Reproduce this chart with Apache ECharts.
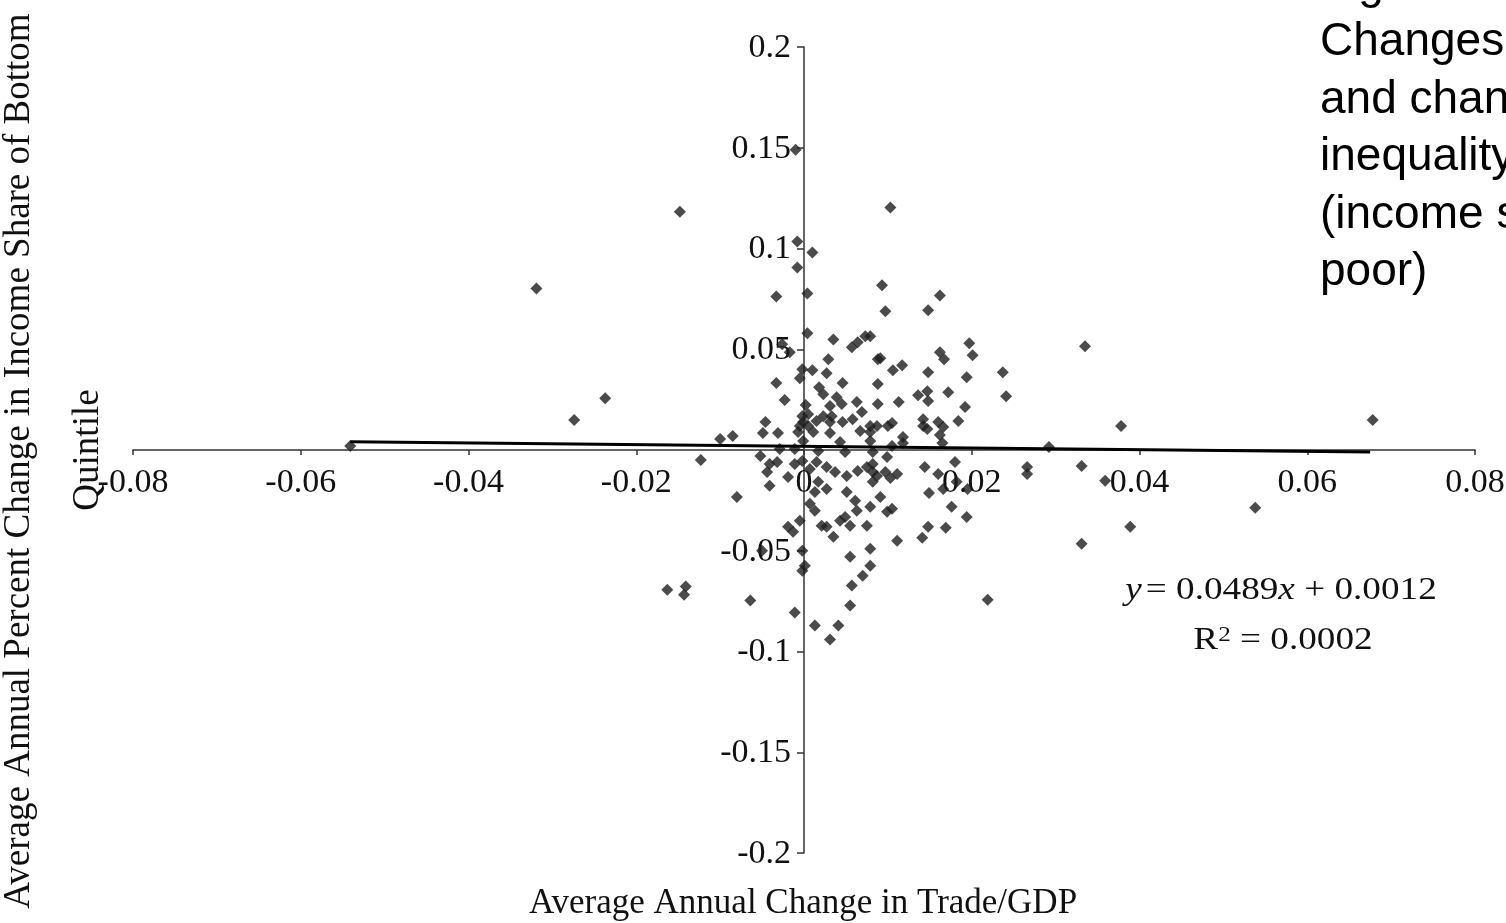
<!DOCTYPE html>
<html><head><meta charset="utf-8">
<script src="https://cdn.jsdelivr.net/npm/echarts@6/dist/echarts.min.js"></script>
<style>html,body{margin:0;padding:0;background:#fff}#c{width:1506px;height:923px}</style>
</head><body><div id="c"></div><script>
// Average annual change in Trade/GDP (x) and in income share of bottom quintile (y)
const xs = [
-0.0541,-0.0319,-0.0274,-0.0237,-0.0148,-0.0163,-0.0141,-0.0143,-0.0123,-0.0100,-0.0085,-0.0080,-0.0064,-0.0010,-0.0008,0.0010,-0.0008,0.0103,
-0.0033,0.0004,0.0004,0.0035,0.0057,0.0064,0.0073,-0.0026,-0.0017,0.0029,0.0088,-0.0002,0.0010,-0.0005,0.0027,-0.0033,0.0046,0.0018,0.0023,-0.0023,
0.0039,0.0045,0.0031,0.0063,0.0088,0.0088,0.0002,0.0069,-0.0002,0.0005,0.0023,0.0033,0.0046,0.0058,-0.0046,-0.0005,0.0005,-0.0049,-0.0031,0.0031,
0.0067,0.0079,0.0087,0.0093,0.0162,0.0097,0.0148,0.0079,0.0197,0.0201,0.0162,0.0167,0.0091,0.0106,0.0117,0.0148,0.0237,0.0194,0.0136,0.0147,
0.0148,0.0172,0.0241,0.0113,0.0192,0.0105,0.0142,0.0147,0.0160,0.0166,0.0184,0.0118,0.0162,
-0.0052,-0.0041,-0.0032,-0.0044,-0.0041,-0.0019,-0.0011,-0.0002,0.0007,0.0015,0.0027,0.0037,0.0017,0.0013,0.0027,0.0051,0.0064,0.0075,0.0087,
0.0051,0.0061,0.0063,0.0079,0.0007,0.0013,-0.0005,-0.0019,-0.0013,0.0021,0.0027,0.0043,0.0049,0.0055,0.0075,0.0035,-0.0050,-0.0002,0.0079,
0.0055,0.0001,-0.0002,0.0079,0.0070,
0.0105,0.0118,0.0165,0.0082,0.0099,0.0144,0.0180,0.0082,0.0082,0.0082,0.0097,0.0103,0.0111,0.0160,0.0182,0.0166,0.0149,0.0195,0.0091,0.0099,
0.0105,0.0176,0.0194,0.0148,0.0141,0.0169,0.0111,0.0266,0.0266,
-0.0029,-0.0007,-0.0001,0.0011,0.0017,0.0043,0.0049,0.0079,0.0142,-0.0011,-0.0001,0.0015,0.0031,0.0079,0.0100,
0.0335,0.0378,0.0678,0.0292,0.0331,0.0359,0.0389,0.0331,0.0538,0.0219,
-0.0011,0.0013,0.0041,0.0031,0.0055,0.0057
];
const ys = [
0.0020,0.0802,0.0149,0.0257,0.1183,-0.0693,-0.0678,-0.0718,-0.0050,0.0054,0.0069,-0.0233,-0.0747,0.1490,0.1035,0.0980,0.0906,0.1203,
0.0762,0.0777,0.0579,0.0549,0.0510,0.0535,0.0564,0.0525,0.0485,0.0450,0.0450,0.0401,0.0396,0.0356,0.0381,0.0332,0.0332,0.0312,0.0277,0.0248,
0.0262,0.0228,0.0218,0.0238,0.0327,0.0228,0.0223,0.0188,0.0168,0.0178,0.0168,0.0168,0.0139,0.0153,0.0139,0.0119,0.0119,0.0084,0.0084,0.0084,
0.0094,0.0089,0.0119,0.0817,0.0767,0.0688,0.0693,0.0564,0.0530,0.0470,0.0485,0.0450,0.0455,0.0396,0.0421,0.0386,0.0386,0.0361,0.0272,0.0292,
0.0243,0.0287,0.0267,0.0238,0.0213,0.0134,0.0153,0.0104,0.0139,0.0114,0.0144,0.0064,0.0074,
-0.0030,-0.0069,-0.0059,-0.0109,-0.0178,-0.0134,-0.0069,-0.0054,-0.0094,-0.0059,-0.0084,-0.0109,-0.0158,-0.0208,-0.0193,-0.0129,-0.0104,-0.0084,-0.0129,
-0.0208,-0.0252,-0.0302,-0.0282,-0.0267,-0.0302,-0.0351,-0.0381,-0.0406,-0.0376,-0.0381,-0.0351,-0.0332,-0.0376,-0.0376,-0.0431,-0.0500,-0.0500,-0.0490,
-0.0530,-0.0574,-0.0599,-0.0574,-0.0624,
0.0020,0.0035,0.0035,-0.0010,-0.0035,-0.0084,-0.0059,-0.0069,-0.0109,-0.0158,-0.0109,-0.0139,-0.0119,-0.0119,-0.0158,-0.0193,-0.0213,-0.0193,-0.0233,-0.0307,
-0.0292,-0.0282,-0.0332,-0.0381,-0.0436,-0.0386,-0.0450,-0.0084,-0.0119,
0.0005,0.0089,0.0045,0.0089,-0.0005,0.0040,-0.0010,0.0045,0.0119,0.0005,0.0139,0.0144,0.0139,0.0119,0.0119,
0.0515,0.0119,0.0149,0.0015,-0.0079,-0.0153,-0.0381,-0.0465,-0.0287,-0.0743,
-0.0807,-0.0871,-0.0871,-0.0941,-0.0772,-0.0673
];
// fitted trend line as drawn in the figure (end points)
const trendX = [-0.0541, 0.0675];
const trendY = [0.0041, -0.0010];
// axis ticks and their labels
const xTicks = [-0.08, -0.06, -0.04, -0.02, 0, 0.02, 0.04, 0.06, 0.08];
const xTickLabels = ['-0.08', '-0.06', '-0.04', '-0.02', '0', '0.02', '0.04', '0.06', '0.08'];
const yTicks = [-0.2, -0.15, -0.1, -0.05, 0, 0.05, 0.1, 0.15, 0.2];
const yTickLabels = ['-0.2', '-0.15', '-0.1', '-0.05', '', '0.05', '0.1', '0.15', '0.2'];
const xTitle = 'Average Annual Change in Trade/GDP';
const yTitle1 = 'Average Annual Percent Change in Income Share of Bottom';
const yTitle2 = 'Quintile';
const noteLines = ['Figure 4 (b)', 'Changes in openness', 'and changes in', 'inequality', '(income share of the', 'poor)'];

const pts = xs.map((x, i) => [x, ys[i]]);
const trend = trendX.map((x, i) => [x, trendY[i]]);
const serif = '"Liberation Serif", "Times New Roman", serif';
const sans = '"Liberation Sans", Arial, sans-serif';

const chart = echarts.init(document.getElementById('c'), null, {renderer: 'canvas'});
const noteGraphics = noteLines.map((t, i) => ({
  type: 'text', left: 1320, top: -38 + i * 57.5, silent: true,
  style: {text: t, font: '46px ' + sans, fill: '#000'}
}));
chart.setOption({
  backgroundColor: '#fff',
  animation: false,
  grid: {left: 133, right: 31, top: 47, bottom: 70, containLabel: false},
  xAxis: {
    type: 'value', min: -0.08, max: 0.08, interval: 0.02,
    axisLine: {onZero: true, lineStyle: {color: '#333', width: 1.5}},
    axisTick: {show: true, length: 5, lineStyle: {color: '#333', width: 1.5}},
    splitLine: {show: false},
    axisLabel: {show: false}
  },
  yAxis: {
    type: 'value', min: -0.2, max: 0.2, interval: 0.05,
    axisLine: {onZero: true, lineStyle: {color: '#333', width: 1.5}},
    axisTick: {show: true, length: 7, lineStyle: {color: '#333', width: 1.5}},
    splitLine: {show: false},
    axisLabel: {show: false}
  },
  series: [
    {type: 'scatter', data: pts, symbol: 'diamond', symbolSize: 12,
     itemStyle: {color: '#1e1e1e'}, z: 3},
    {type: 'line', data: trend, symbol: 'none', lineStyle: {color: '#000', width: 3}, z: 4}
  ]
});

// tick labels placed with the chart's own scales (axes cross at zero)
const tickGraphics = [];
xTicks.forEach((v, i) => {
  const p = chart.convertToPixel({gridIndex: 0}, [v, 0]);
  tickGraphics.push({type: 'text', x: p[0], y: p[1] + 33, silent: true, z: 1,
    style: {text: xTickLabels[i], font: '34px ' + serif, fill: '#111', align: 'center', verticalAlign: 'middle'}});
});
yTicks.forEach((v, i) => {
  if (!yTickLabels[i]) return;
  const p = chart.convertToPixel({gridIndex: 0}, [0, v]);
  tickGraphics.push({type: 'text', x: p[0] - 13, y: p[1] + 1, silent: true, z: 1,
    style: {text: yTickLabels[i], font: '34px ' + serif, fill: '#111', align: 'right', verticalAlign: 'middle'}});
});

chart.setOption({
  graphic: [
    {type: 'text', x: 19, y: 461, rotation: Math.PI / 2, silent: true,
     style: {text: yTitle1, font: '37px ' + serif, fill: '#111', align: 'center', verticalAlign: 'middle'}},
    {type: 'text', x: 88, y: 450, rotation: Math.PI / 2, silent: true,
     style: {text: yTitle2, font: '37px ' + serif, fill: '#111', align: 'center', verticalAlign: 'middle'}},
    {type: 'text', x: 803, y: 904, silent: true,
     style: {text: xTitle, font: '35px ' + serif, fill: '#111', align: 'center', verticalAlign: 'middle'}},
    {type: 'text', x: 1281, y: 591, scaleX: 1.2, silent: true,
     style: {rich: {i: {font: 'italic 31px ' + serif, fill: '#111'}, n: {font: '31px ' + serif, fill: '#111'}},
       text: '{i|y} {n|= 0.0489}{i|x}{n| + 0.0012}', align: 'center', verticalAlign: 'middle'}},
    {type: 'text', x: 1283, y: 641, scaleX: 1.2, silent: true,
     style: {rich: {n: {font: '31px ' + serif, fill: '#111'}, s: {font: '21px ' + serif, fill: '#111', padding: [0, 0, 12, 0]}},
       text: '{n|R}{s|2}{n| = 0.0002}', align: 'center', verticalAlign: 'middle'}}
  ].concat(noteGraphics, tickGraphics)
});
</script></body></html>
